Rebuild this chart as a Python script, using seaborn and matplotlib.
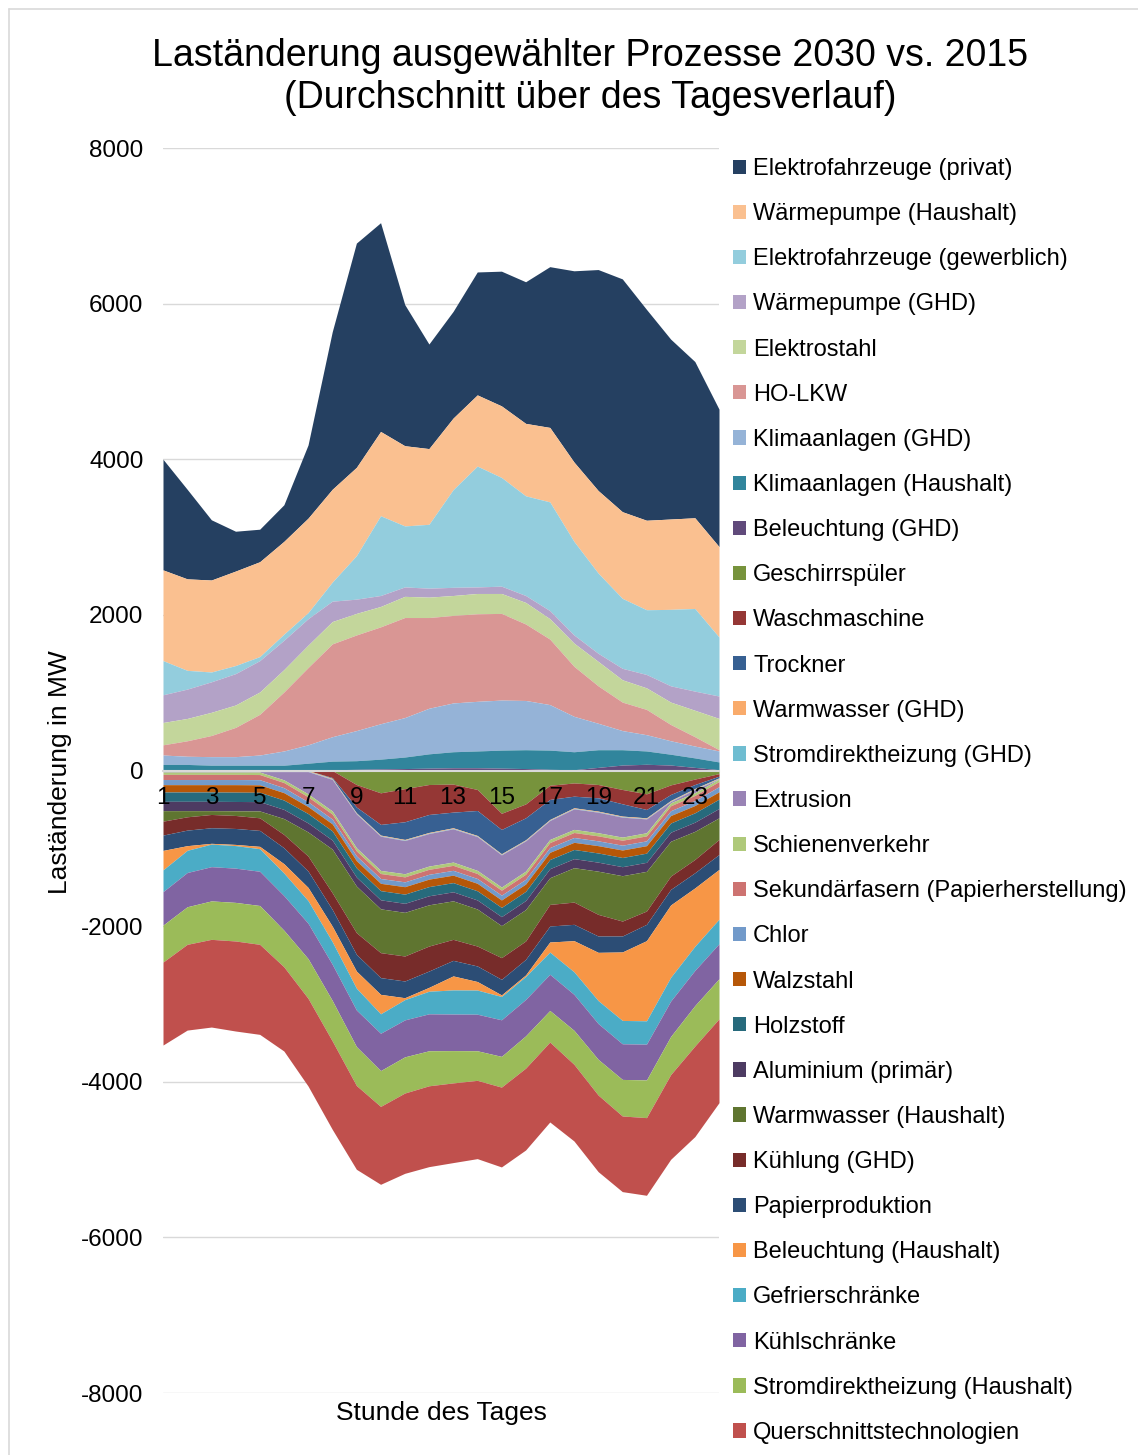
import matplotlib
matplotlib.use("Agg")
import matplotlib.pyplot as plt
from matplotlib.patches import Patch
from matplotlib.lines import Line2D
import numpy as np
import seaborn as sns

hours = list(range(1, 25))

# positive series (MW), legend order top -> bottom
ef_privat = [1422, 1151, 774, 512, 418, 470, 941, 2024, 2882, 2683, 1814, 1344, 1371, 1580, 1731, 1820, 2066, 2458, 2840, 2992, 2710, 2312, 2008, 1767]
wp_haushalt = [1166, 1176, 1182, 1214, 1219, 1193, 1214, 1193, 1135, 1083, 1031, 973, 920, 915, 920, 931, 957, 1020, 1061, 1114, 1150, 1161, 1166, 1162]
ef_gewerblich = [439, 241, 126, 104, 52, 78, 78, 245, 559, 1025, 784, 821, 1255, 1553, 1397, 1281, 1397, 1202, 1031, 899, 832, 983, 1062, 758]
wp_ghd = [356, 377, 392, 403, 403, 377, 340, 262, 183, 141, 121, 115, 105, 84, 94, 89, 104, 105, 104, 147, 172, 209, 246, 288]
elektrostahl = [287, 287, 298, 288, 287, 288, 288, 287, 277, 262, 272, 262, 256, 261, 256, 277, 262, 298, 314, 287, 277, 288, 340, 402]
ho_lkw = [131, 199, 272, 376, 523, 758, 993, 1193, 1229, 1245, 1286, 1166, 1125, 1125, 1114, 983, 842, 643, 481, 366, 325, 209, 120, 16]
klima_ghd = [121, 105, 110, 110, 131, 183, 236, 314, 387, 455, 507, 586, 627, 638, 643, 633, 585, 455, 340, 246, 209, 173, 152, 141]
klima_haushalt = [78, 78, 68, 68, 68, 68, 89, 110, 111, 126, 148, 184, 206, 216, 232, 242, 247, 231, 227, 197, 171, 139, 122, 100]
bel_ghd = [0, 0, 0, 0, 0, 0, 5, 10, 15, 20, 25, 30, 35, 35, 30, 25, 15, 10, 40, 70, 80, 70, 40, 10]

# negative series (MW)
geschirr = [0, 0, 0, 0, 0, 0, 0, 0, -180, -287, -233, -180, -175, -244, -550, -430, -190, -160, -180, -244, -300, -185, -110, -40]
waschmaschine = [0, 0, 0, 0, 0, 0, 0, -90, -290, -406, -426, -385, -360, -270, -208, -178, -182, -170, -171, -184, -201, -123, -70, -33]
trockner = [0, 0, 0, 0, 0, 0, 0, -10, -74, -137, -227, -231, -201, -321, -312, -282, -257, -149, -171, -158, -107, -77, -51, -21]
ww_ghd = [-8, -8, -8, -8, -8, -8, -8, -8, -8, -8, -8, -8, -8, -8, -8, -8, -8, -8, -8, -8, -8, -8, -8, -8]
sdh_ghd = [-6, -6, -6, -6, -6, -6, -6, -6, -6, -6, -6, -6, -6, -6, -6, -6, -6, -6, -6, -6, -6, -6, -6, -6]
extrusion = [-6, -6, -6, -6, -6, -106, -286, -406, -435, -440, -427, -418, -427, -435, -414, -389, -243, -264, -264, -256, -178, -16, -40, -2]
schiene = [-30, -30, -30, -30, -32, -35, -38, -40, -40, -40, -40, -42, -42, -40, -40, -40, -40, -40, -40, -40, -40, -38, -35, -32]
sekundaer = [-66, -66, -66, -66, -66, -66, -64, -64, -64, -64, -64, -64, -64, -64, -64, -64, -64, -64, -64, -64, -64, -64, -66, -66]
chlor = [-66, -66, -66, -66, -66, -64, -62, -62, -62, -62, -62, -62, -62, -62, -62, -62, -62, -62, -62, -62, -62, -62, -64, -66]
walzstahl = [-94, -94, -94, -96, -96, -95, -90, -90, -92, -94, -96, -96, -96, -96, -96, -94, -92, -92, -94, -96, -96, -96, -94, -94]
holzstoff = [-120, -120, -120, -120, -120, -120, -120, -118, -118, -118, -118, -118, -118, -118, -118, -118, -118, -118, -118, -118, -118, -118, -120, -120]
aluminium = [-120, -120, -120, -120, -120, -118, -116, -116, -116, -116, -116, -116, -116, -116, -116, -116, -116, -116, -116, -116, -116, -116, -118, -120]
ww_haushalt = [-135, -79, -49, -60, -88, -204, -310, -561, -599, -563, -561, -530, -495, -476, -411, -404, -343, -442, -555, -583, -510, -448, -361, -278]
kuehlung_ghd = [-179, -171, -171, -167, -162, -171, -193, -214, -279, -321, -321, -321, -270, -256, -279, -236, -278, -286, -278, -192, -171, -171, -171, -193]
papier = [-197, -200, -200, -205, -205, -205, -210, -215, -215, -215, -215, -210, -200, -200, -200, -200, -205, -210, -210, -205, -210, -200, -195, -192]
bel_haushalt = [-250, -60, -10, -15, -30, -120, -170, -200, -220, -250, -25, -50, -180, -110, -20, -20, -130, -400, -620, -880, -1030, -930, -750, -640]
gefrier = [-280, -285, -290, -290, -290, -290, -290, -290, -280, -250, -260, -290, -310, -310, -300, -295, -285, -290, -295, -300, -300, -305, -310, -315]
kuehl = [-430, -440, -440, -440, -440, -445, -455, -465, -470, -480, -475, -475, -470, -470, -470, -468, -465, -462, -460, -458, -460, -455, -452, -450]
sdh_haushalt = [-475, -483, -494, -496, -499, -470, -510, -520, -500, -460, -465, -450, -415, -380, -395, -415, -406, -437, -459, -470, -484, -490, -520, -515]
querschnitt = [-1066, -1102, -1127, -1157, -1157, -1082, -1127, -1136, -1077, -1001, -1032, -1039, -1024, -1006, -1026, -1052, -1027, -985, -984, -972, -998, -1089, -1164, -1078]

labels = ["Elektrofahrzeuge (privat)", "Wärmepumpe (Haushalt)", "Elektrofahrzeuge (gewerblich)",
          "Wärmepumpe (GHD)", "Elektrostahl", "HO-LKW", "Klimaanlagen (GHD)", "Klimaanlagen (Haushalt)",
          "Beleuchtung (GHD)", "Geschirrspüler", "Waschmaschine", "Trockner", "Warmwasser (GHD)",
          "Stromdirektheizung (GHD)", "Extrusion", "Schienenverkehr", "Sekundärfasern (Papierherstellung)",
          "Chlor", "Walzstahl", "Holzstoff", "Aluminium (primär)", "Warmwasser (Haushalt)", "Kühlung (GHD)",
          "Papierproduktion", "Beleuchtung (Haushalt)", "Gefrierschränke", "Kühlschränke",
          "Stromdirektheizung (Haushalt)", "Querschnittstechnologien"]
series = [ef_privat, wp_haushalt, ef_gewerblich, wp_ghd, elektrostahl, ho_lkw, klima_ghd, klima_haushalt,
          bel_ghd, geschirr, waschmaschine, trockner, ww_ghd, sdh_ghd, extrusion, schiene, sekundaer,
          chlor, walzstahl, holzstoff, aluminium, ww_haushalt, kuehlung_ghd, papier, bel_haushalt,
          gefrier, kuehl, sdh_haushalt, querschnitt]
colors = ["#254061", "#FAC090", "#93CDDD", "#B3A2C7", "#C3D69B", "#D99694", "#95B3D7", "#31859C",
          "#604A7B", "#77933C", "#953735", "#376092", "#F9AB6B", "#6FBDD1", "#9983B5", "#AFC97A",
          "#CD7371", "#729ACA", "#B65708", "#276A7C", "#4D3B62", "#5F7530", "#772C2A", "#2C4D75",
          "#F79646", "#4BACC6", "#8064A2", "#9BBB59", "#C0504D"]

sns.set_theme(style="white")
plt.rcParams['font.family'] = ['Liberation Sans', 'DejaVu Sans']
plt.rcParams['axes.unicode_minus'] = False
plt.rcParams['text.color'] = 'black'

W, H = 1138, 1455
fig = plt.figure(figsize=(W / 100, H / 100), dpi=100)
ax = fig.add_axes([163 / W, 1 - 1393 / H, (719 - 163) / W, (1393 - 148) / H])

vals = np.array(series, dtype=float)
pos = np.clip(vals, 0, None)
neg = np.clip(vals, None, 0)
# positives stack upward from the bottom legend entry, negatives downward from the top one
pos_top = np.cumsum(pos[::-1], axis=0)[::-1]
pos_bot = pos_top - pos
neg_bot = np.cumsum(neg, axis=0)
neg_top = neg_bot - neg

for i in range(len(series)):
    if pos[i].any():
        ax.fill_between(hours, pos_bot[i], pos_top[i], color=colors[i], linewidth=0, zorder=2)
    if neg[i].any():
        ax.fill_between(hours, neg_bot[i], neg_top[i], color=colors[i], linewidth=0, zorder=2)

ax.set_xlim(1, 24)
ax.set_ylim(-8000, 8000)
ax.set_yticks(range(-8000, 8001, 2000))
for yv in range(-8000, 8001, 2000):
    if yv != 0:
        ax.axhline(yv, color="#D9D9D9", linewidth=1, zorder=0.5)
ax.grid(False)
for s in ["left", "right", "top"]:
    ax.spines[s].set_visible(False)
ax.spines["bottom"].set_position(("data", 0))
ax.spines["bottom"].set_color("#D9D9D9")
ax.spines["bottom"].set_linewidth(1.5)
ax.spines["bottom"].set_zorder(3)
ax.xaxis.set_zorder(5)
ax.set_xticks(hours)
ax.set_xticklabels([str(h) if h % 2 == 1 else "" for h in hours])
ax.tick_params(axis="x", direction="out", length=4, width=1, color="#D9D9D9", labelsize=17.5, pad=8, labelcolor="black")
ax.tick_params(axis="y", length=0, labelsize=17.5, pad=14, labelcolor="black")

ax.text(0.5, -0.016, "Stunde des Tages", transform=ax.transAxes, ha="center", va="center", fontsize=19)
fig.text(60 / W, 1 - 772 / H, "Laständerung in MW", rotation=90, ha="center", va="center", fontsize=19)
fig.text(590 / W, 1 - 77 / H, "Laständerung ausgewählter Prozesse 2030 vs. 2015\n(Durchschnitt über des Tagesverlauf)",
         ha="center", va="center", fontsize=27, linespacing=1.2)

handles = [Patch(facecolor=c, edgecolor="none") for c in colors]
fig.legend(handles, labels, loc="upper left", bbox_to_anchor=(733 / W, 1 - 158 / H), frameon=False,
           fontsize=17, handlelength=0.55, handleheight=0.55, handletextpad=0.3, labelspacing=0.98,
           borderpad=0, borderaxespad=0)

# chart border (top and left visible)
fig.add_artist(Line2D([9 / W, 9 / W], [0, 1 - 9 / H], color="#D9D9D9", linewidth=1.2, transform=fig.transFigure))
fig.add_artist(Line2D([9 / W, 1], [1 - 9 / H, 1 - 9 / H], color="#D9D9D9", linewidth=1.2, transform=fig.transFigure))

fig.savefig("out.png", dpi=100)
